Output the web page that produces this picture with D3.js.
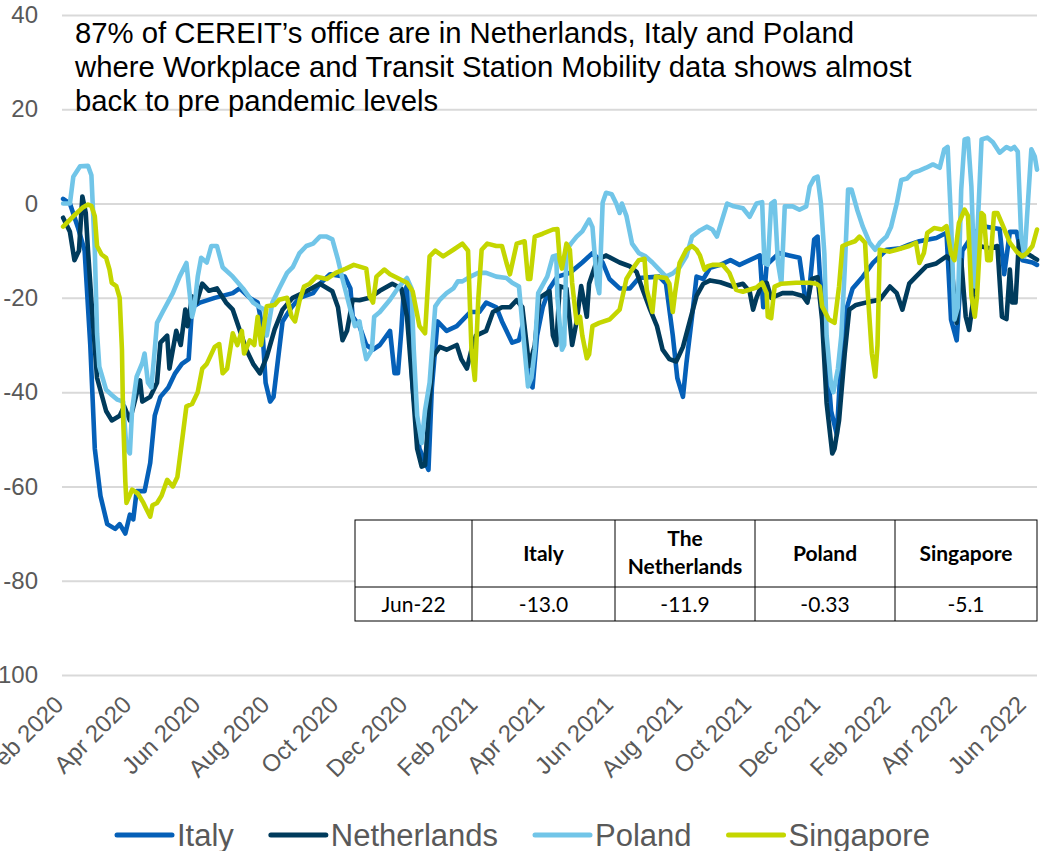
<!DOCTYPE html>
<html>
<head>
<meta charset="utf-8">
<script src="https://cdn.jsdelivr.net/npm/d3@7"></script>
<style>
  body { margin: 0; background: #fff; }
  svg { display: block; }
</style>
</head>
<body>
<div id="chart"></div>
<script>
// chart size
var chart_width = 1043;
var chart_height = 851;

// title lines
var titleLines = [
  "87% of CEREIT\u2019s office are in Netherlands, Italy and Poland",
  "where Workplace and Transit Station Mobility data shows almost",
  "back to pre pandemic levels"
];

// x tick labels (every 2 months from Feb 2020)
var tickLabels = ["Feb 2020", "Apr 2020", "Jun 2020", "Aug 2020", "Oct 2020", "Dec 2020",
  "Feb 2021", "Apr 2021", "Jun 2021", "Aug 2021", "Oct 2021", "Dec 2021",
  "Feb 2022", "Apr 2022", "Jun 2022"];
var yTicks = [-100, -80, -60, -40, -20, 0, 20, 40];

var seriesNames = ["Italy", "Netherlands", "Poland", "Singapore"];
var seriesColors = ["#0560B8", "#003B5C", "#71C5E8", "#C4D600"];

// mobility values: [date, value]
var italy = [["2020-02-16",1],["2020-02-22",0],["2020-02-29",-5],["2020-03-06",-10],["2020-03-11",-30],["2020-03-15",-52],["2020-03-20",-62],["2020-03-26",-68],["2020-04-02",-69],["2020-04-06",-68],["2020-04-11",-70],["2020-04-15",-66],["2020-04-18",-67],["2020-04-21",-61],["2020-04-28",-61],["2020-05-03",-55],["2020-05-07",-45],["2020-05-12",-41],["2020-05-19",-39],["2020-05-25",-36],["2020-05-31",-34],["2020-06-06",-33],["2020-06-09",-22],["2020-06-16",-21],["2020-06-29",-20],["2020-07-15",-19],["2020-07-21",-18],["2020-07-30",-20],["2020-08-06",-21],["2020-08-10",-26],["2020-08-13",-38],["2020-08-17",-42],["2020-08-20",-41],["2020-08-24",-33],["2020-08-28",-25],["2020-09-05",-22],["2020-09-12",-20],["2020-09-24",-19],["2020-09-30",-17],["2020-10-09",-15],["2020-10-22",-15.5],["2020-10-27",-18],["2020-10-29",-24],["2020-11-04",-26],["2020-11-10",-30],["2020-11-16",-31],["2020-11-22",-30],["2020-12-01",-27],["2020-12-05",-36],["2020-12-08",-36],["2020-12-11",-27],["2020-12-13",-19],["2020-12-16",-17.5],["2020-12-21",-39],["2020-12-27",-52],["2021-01-04",-56.5],["2021-01-07",-39],["2021-01-12",-25],["2021-01-20",-27],["2021-01-29",-26],["2021-02-10",-23],["2021-02-18",-23],["2021-02-24",-21],["2021-03-05",-22],["2021-03-10",-25],["2021-03-19",-29.5],["2021-03-25",-29],["2021-03-29",-25],["2021-04-03",-38],["2021-04-06",-39],["2021-04-10",-28],["2021-04-15",-22],["2021-04-21",-18],["2021-04-28",-15.5],["2021-05-09",-14.7],["2021-05-20",-12.5],["2021-05-29",-10.5],["2021-06-07",-12.5],["2021-06-13",-16],["2021-06-22",-18],["2021-07-01",-18],["2021-07-09",-15.8],["2021-07-27",-15.5],["2021-08-02",-17],["2021-08-08",-28],["2021-08-12",-37],["2021-08-17",-41],["2021-08-20",-34],["2021-08-25",-24],["2021-08-29",-15.5],["2021-09-04",-16],["2021-09-10",-13.6],["2021-09-19",-13],["2021-09-28",-12],["2021-10-06",-13],["2021-10-15",-12],["2021-10-24",-11],["2021-10-27",-22],["2021-10-30",-13],["2021-11-10",-10.5],["2021-11-19",-11],["2021-11-28",-11.5],["2021-12-03",-20],["2021-12-06",-20],["2021-12-11",-7.6],["2021-12-14",-7],["2021-12-16",-15],["2021-12-22",-32],["2021-12-26",-44],["2021-12-31",-49],["2022-01-04",-32],["2022-01-09",-22],["2022-01-14",-18],["2022-01-23",-15.5],["2022-02-01",-12.6],["2022-02-13",-9.8],["2022-02-25",-9.5],["2022-03-05",-8.7],["2022-03-14",-8],["2022-03-29",-7.3],["2022-04-07",-6.2],["2022-04-11",-24.6],["2022-04-16",-29],["2022-04-21",-10],["2022-05-02",-6],["2022-05-12",-4.9],["2022-05-24",-5.4],["2022-05-28",-15],["2022-06-02",-6],["2022-06-08",-6],["2022-06-13",-12],["2022-06-22",-12.5],["2022-06-26",-13]];

var netherlands = [["2020-02-16",-3],["2020-02-22",-6],["2020-02-26",-12],["2020-03-01",-10],["2020-03-04",1.5],["2020-03-07",-2],["2020-03-09",-10],["2020-03-13",-24],["2020-03-17",-37],["2020-03-25",-44],["2020-03-30",-46],["2020-04-06",-45],["2020-04-10",-43],["2020-04-15",-46],["2020-04-24",-37.5],["2020-04-26",-42],["2020-05-03",-41],["2020-05-09",-38],["2020-05-12",-29.5],["2020-05-18",-28],["2020-05-20",-35],["2020-05-26",-27],["2020-05-30",-30],["2020-06-03",-22.5],["2020-06-05",-26],["2020-06-09",-19.7],["2020-06-13",-21],["2020-06-18",-17],["2020-06-24",-18.5],["2020-07-01",-18],["2020-07-09",-21],["2020-07-15",-22.5],["2020-07-27",-31],["2020-08-02",-34],["2020-08-08",-36],["2020-08-14",-32.5],["2020-08-21",-26.7],["2020-08-28",-22.5],["2020-09-06",-20],["2020-09-18",-18.6],["2020-09-30",-17],["2020-10-11",-18.6],["2020-10-16",-22],["2020-10-20",-29],["2020-10-24",-27],["2020-10-29",-20.4],["2020-11-04",-20.5],["2020-11-13",-20],["2020-11-22",-18.5],["2020-12-03",-17],["2020-12-11",-18],["2020-12-16",-24],["2020-12-21",-39],["2020-12-25",-52],["2020-12-29",-55.8],["2021-01-01",-55.5],["2021-01-04",-45],["2021-01-08",-32.5],["2021-01-14",-30.4],["2021-01-20",-31],["2021-01-29",-30],["2021-02-02",-33],["2021-02-07",-35],["2021-02-11",-31],["2021-02-15",-28],["2021-02-24",-27],["2021-03-02",-23],["2021-03-10",-22],["2021-03-17",-22],["2021-03-23",-20.5],["2021-03-28",-22],["2021-04-03",-34.5],["2021-04-08",-30],["2021-04-12",-20],["2021-04-21",-18.6],["2021-04-24",-28],["2021-04-27",-30],["2021-04-30",-17.5],["2021-05-06",-18],["2021-05-11",-30],["2021-05-15",-25],["2021-05-19",-17.5],["2021-05-24",-24],["2021-05-26",-17],["2021-06-02",-12],["2021-06-10",-11],["2021-06-22",-12.5],["2021-07-01",-13.3],["2021-07-07",-14.5],["2021-07-12",-18],["2021-07-19",-22.5],["2021-07-25",-26],["2021-07-30",-31],["2021-08-05",-33],["2021-08-11",-33.5],["2021-08-17",-30.4],["2021-08-23",-25],["2021-08-29",-19.6],["2021-09-04",-17],["2021-09-10",-16.3],["2021-09-19",-16.7],["2021-09-30",-17.6],["2021-10-09",-17],["2021-10-15",-18.7],["2021-10-18",-22.5],["2021-10-21",-20],["2021-10-26",-17],["2021-10-30",-16.8],["2021-11-03",-20],["2021-11-13",-19],["2021-11-22",-19],["2021-12-01",-19.6],["2021-12-05",-21],["2021-12-09",-16],["2021-12-14",-15.6],["2021-12-18",-24.6],["2021-12-22",-42.3],["2021-12-27",-53],["2021-12-29",-52],["2022-01-02",-46],["2022-01-07",-31.8],["2022-01-11",-22.5],["2022-01-17",-21.5],["2022-01-29",-20.8],["2022-02-07",-20.4],["2022-02-16",-17.6],["2022-02-22",-19],["2022-02-27",-22.5],["2022-03-05",-17],["2022-03-11",-15.5],["2022-03-20",-13.3],["2022-03-29",-12.7],["2022-04-07",-11.2],["2022-04-11",-12],["2022-04-16",-25.3],["2022-04-20",-12],["2022-04-24",-24],["2022-04-27",-26.8],["2022-05-02",-18],["2022-05-06",-9],["2022-05-15",-9.5],["2022-05-22",-9],["2022-05-26",-24],["2022-05-30",-24.5],["2022-06-02",-14],["2022-06-04",-21],["2022-06-07",-21],["2022-06-10",-8],["2022-06-17",-10.6],["2022-06-22",-11.3],["2022-06-26",-11.9]];

var poland = [["2020-02-16",0],["2020-02-22",0],["2020-02-25",5.7],["2020-03-02",7.9],["2020-03-09",8],["2020-03-12",6],["2020-03-15",-10],["2020-03-17",-27.5],["2020-03-19",-34.6],["2020-03-25",-39.5],["2020-03-30",-40.6],["2020-04-04",-41.6],["2020-04-09",-42],["2020-04-12",-52],["2020-04-15",-53],["2020-04-17",-43.7],["2020-04-21",-36.7],["2020-04-26",-33.8],["2020-04-28",-31.8],["2020-05-01",-38],["2020-05-04",-39],["2020-05-07",-31],["2020-05-09",-25.3],["2020-05-14",-23],["2020-05-23",-19],["2020-05-29",-15.5],["2020-06-04",-12.6],["2020-06-09",-24],["2020-06-11",-22],["2020-06-14",-15.5],["2020-06-17",-11.5],["2020-06-22",-12.5],["2020-06-26",-9],["2020-07-01",-9],["2020-07-06",-13.5],["2020-07-15",-15.5],["2020-07-24",-18],["2020-08-02",-21],["2020-08-08",-22],["2020-08-12",-22.5],["2020-08-14",-28],["2020-08-19",-21],["2020-08-25",-18],["2020-09-01",-14.7],["2020-09-06",-13.5],["2020-09-12",-10.5],["2020-09-18",-9],["2020-09-24",-8.5],["2020-09-30",-7],["2020-10-06",-7],["2020-10-11",-7.6],["2020-10-16",-11.9],["2020-10-20",-16],["2020-10-27",-22.5],["2020-10-31",-26],["2020-11-04",-25],["2020-11-07",-29.5],["2020-11-10",-33],["2020-11-15",-31],["2020-11-17",-24],["2020-11-22",-23],["2020-12-01",-20.4],["2020-12-09",-17.6],["2020-12-16",-15.8],["2020-12-20",-18],["2020-12-22",-31],["2020-12-25",-45],["2020-12-29",-50.8],["2021-01-01",-43.8],["2021-01-05",-38],["2021-01-10",-21.8],["2021-01-14",-20.4],["2021-01-20",-19],["2021-01-26",-18],["2021-01-30",-16.5],["2021-02-03",-16.5],["2021-02-10",-15.5],["2021-02-17",-14.7],["2021-02-24",-14.7],["2021-03-05",-15.5],["2021-03-14",-15.8],["2021-03-19",-16.8],["2021-03-25",-17.6],["2021-03-30",-31],["2021-04-02",-38.8],["2021-04-05",-37],["2021-04-08",-31],["2021-04-11",-19],["2021-04-19",-15.5],["2021-04-24",-11.2],["2021-04-27",-11],["2021-04-28",-20],["2021-05-02",-31],["2021-05-04",-30],["2021-05-06",-9.8],["2021-05-10",-8.5],["2021-05-15",-7],["2021-05-20",-5.9],["2021-05-26",-3.4],["2021-05-29",-5],["2021-06-02",-17],["2021-06-04",-19],["2021-06-07",0.2],["2021-06-10",2.3],["2021-06-15",2],["2021-06-19",0],["2021-06-22",-2],["2021-06-24",0],["2021-06-28",-2.6],["2021-07-03",-8.5],["2021-07-09",-10.5],["2021-07-15",-11.2],["2021-07-21",-12.5],["2021-07-27",-14],["2021-08-02",-15.5],["2021-08-08",-14.8],["2021-08-14",-13.5],["2021-08-20",-11.2],["2021-08-25",-7],["2021-09-01",-5.7],["2021-09-07",-4.9],["2021-09-12",-5.5],["2021-09-16",-7],["2021-09-25",0],["2021-09-30",-0.5],["2021-10-09",-1],["2021-10-15",-2.8],["2021-10-21",0],["2021-10-26",0.3],["2021-10-28",-12.6],["2021-10-31",-13],["2021-11-03",0],["2021-11-06",0.5],["2021-11-09",-12.6],["2021-11-12",-17],["2021-11-15",-0.6],["2021-11-22",-0.6],["2021-11-28",-1.3],["2021-12-04",-0.6],["2021-12-07",3.6],["2021-12-11",5.4],["2021-12-14",5.7],["2021-12-17",0],["2021-12-20",-10.6],["2021-12-22",-28],["2021-12-26",-38.6],["2021-12-28",-40],["2022-01-01",-35],["2022-01-04",-28],["2022-01-07",-14],["2022-01-10",3],["2022-01-13",3],["2022-01-18",-1.3],["2022-01-23",-4.9],["2022-01-29",-8.3],["2022-02-03",-9.8],["2022-02-07",-8.3],["2022-02-13",-7],["2022-02-17",-4.9],["2022-02-22",0],["2022-02-26",5],["2022-03-03",5.3],["2022-03-08",6.5],["2022-03-14",7],["2022-03-20",7.6],["2022-03-26",8.3],["2022-04-01",7.6],["2022-04-05",11.5],["2022-04-08",12],["2022-04-11",-3.5],["2022-04-14",-24.6],["2022-04-17",-22],["2022-04-20",3],["2022-04-23",13.6],["2022-04-26",13.8],["2022-04-29",3.6],["2022-05-02",-17.6],["2022-05-04",-8],["2022-05-08",13.6],["2022-05-13",14],["2022-05-18",13],["2022-05-24",10.8],["2022-05-30",12],["2022-06-03",11.5],["2022-06-06",12],["2022-06-09",11],["2022-06-12",-7],["2022-06-15",-11.2],["2022-06-17",-3.5],["2022-06-21",11.5],["2022-06-24",10],["2022-06-26",7.2]];

var singapore = [["2020-02-16",-4.9],["2020-02-25",-2.7],["2020-03-04",-0.9],["2020-03-09",-0.2],["2020-03-12",-0.5],["2020-03-15",-2.7],["2020-03-17",-9],["2020-03-21",-10.8],["2020-03-25",-11.5],["2020-03-28",-14],["2020-03-30",-16.8],["2020-04-03",-17.5],["2020-04-06",-20],["2020-04-08",-31],["2020-04-09",-45],["2020-04-11",-59],["2020-04-12",-63.5],["2020-04-17",-60.7],["2020-04-22",-61.5],["2020-04-27",-63.5],["2020-04-30",-65],["2020-05-03",-66.4],["2020-05-05",-64],["2020-05-09",-63.5],["2020-05-13",-62],["2020-05-18",-58.6],["2020-05-23",-60],["2020-05-27",-58],["2020-06-01",-48.7],["2020-06-04",-43],["2020-06-09",-42.5],["2020-06-14",-40],["2020-06-18",-35],["2020-06-22",-34],["2020-06-29",-30.4],["2020-07-03",-29.8],["2020-07-06",-36],["2020-07-10",-35],["2020-07-15",-27.5],["2020-07-19",-30],["2020-07-23",-27],["2020-07-25",-31.8],["2020-07-30",-29],["2020-08-03",-30],["2020-08-06",-24],["2020-08-09",-30],["2020-08-14",-21.8],["2020-08-21",-21.5],["2020-08-25",-20.4],["2020-09-01",-20],["2020-09-05",-24],["2020-09-08",-25],["2020-09-12",-20.6],["2020-09-16",-17.6],["2020-09-21",-17],["2020-09-27",-15.5],["2020-10-06",-16],["2020-10-14",-14.7],["2020-10-23",-13.8],["2020-10-30",-13],["2020-11-10",-13.8],["2020-11-13",-19.7],["2020-11-16",-21],["2020-11-19",-15.5],["2020-11-26",-14],["2020-12-01",-15],["2020-12-16",-16.8],["2020-12-21",-18.6],["2020-12-27",-26],["2021-01-01",-27.5],["2021-01-05",-11.2],["2021-01-10",-10],["2021-01-17",-11.2],["2021-01-26",-9.8],["2021-02-03",-8.5],["2021-02-08",-10],["2021-02-11",-31],["2021-02-14",-37.4],["2021-02-17",-20.4],["2021-02-20",-9.8],["2021-02-25",-8.5],["2021-03-05",-9],["2021-03-10",-9],["2021-03-14",-12.6],["2021-03-17",-15],["2021-03-23",-8.5],["2021-03-30",-8],["2021-04-02",-16],["2021-04-04",-16],["2021-04-08",-7],["2021-04-15",-6.4],["2021-04-24",-5.5],["2021-04-28",-5.4],["2021-04-30",-11.9],["2021-05-02",-13.8],["2021-05-06",-8.5],["2021-05-09",-9.8],["2021-05-11",-16.8],["2021-05-15",-25.3],["2021-05-18",-24],["2021-05-20",-28],["2021-05-24",-32.8],["2021-05-26",-32],["2021-05-29",-26],["2021-06-04",-25.3],["2021-06-13",-24.6],["2021-06-22",-22.5],["2021-06-28",-16],["2021-07-03",-14],["2021-07-09",-12],["2021-07-14",-11.7],["2021-07-16",-18.3],["2021-07-21",-23],["2021-07-24",-15.5],["2021-08-02",-15.8],["2021-08-05",-17],["2021-08-08",-23],["2021-08-10",-19],["2021-08-14",-12.6],["2021-08-20",-9.8],["2021-08-25",-9],["2021-08-29",-9.8],["2021-09-01",-11],["2021-09-05",-14],["2021-09-08",-13.3],["2021-09-12",-13],["2021-09-21",-13],["2021-09-27",-14.7],["2021-10-03",-18.3],["2021-10-09",-18.7],["2021-10-21",-17.8],["2021-10-26",-16.8],["2021-10-30",-19],["2021-10-31",-24],["2021-11-03",-24.3],["2021-11-06",-17.6],["2021-11-12",-17],["2021-11-25",-16.8],["2021-12-07",-16.8],["2021-12-13",-17],["2021-12-16",-17.6],["2021-12-18",-21.8],["2021-12-24",-24.6],["2021-12-29",-25.3],["2022-01-02",-17.6],["2022-01-05",-9],["2022-01-10",-8.5],["2022-01-16",-8],["2022-01-20",-7],["2022-01-25",-8.3],["2022-01-27",-17.6],["2022-01-31",-31.8],["2022-02-03",-36.7],["2022-02-05",-30],["2022-02-07",-9.8],["2022-02-16",-10.2],["2022-02-22",-9.8],["2022-03-05",-9],["2022-03-11",-8.3],["2022-03-14",-12.6],["2022-03-18",-10.5],["2022-03-21",-6.2],["2022-03-27",-5.2],["2022-04-03",-5.5],["2022-04-07",-4.8],["2022-04-11",-10.6],["2022-04-14",-12],["2022-04-18",-4.1],["2022-04-23",-1.3],["2022-04-26",-2.6],["2022-04-29",-19.6],["2022-05-02",-24],["2022-05-04",-19.6],["2022-05-08",-2],["2022-05-10",-2.5],["2022-05-13",-12],["2022-05-16",-12],["2022-05-19",-2],["2022-05-22",-2],["2022-05-27",-4.8],["2022-06-02",-8.3],["2022-06-08",-10.2],["2022-06-13",-11.2],["2022-06-17",-10.5],["2022-06-22",-9],["2022-06-26",-5.5]];

// table
var tableHeaders = ["", "Italy", "The\nNetherlands", "Poland", "Singapore"];
var tableRow = ["Jun-22", "-13.0", "-11.9", "-0.33", "-5.1"];

var parseDate = d3.timeParse("%Y-%m-%d");
var startDate = parseDate("2020-02-15");

var x = d3.scaleTime()
  .domain([startDate, parseDate("2022-06-26")])
  .range([62, 1037]);
var y = d3.scaleLinear().domain([-100, 40]).range([675, 15]);

var svg = d3.select("#chart").append("svg")
  .attr("width", chart_width)
  .attr("height", chart_height);

// gridlines + y labels (plain hyphen for negatives)
var yAxis = svg.append("g")
  .attr("transform", "translate(62,0)")
  .call(d3.axisLeft(y).tickValues(yTicks).tickSize(-975).tickPadding(24)
    .tickFormat(function(d) { return String(d); }));
yAxis.select(".domain").remove();
yAxis.selectAll("line").attr("stroke", "#d9d9d9").attr("stroke-width", 2);
yAxis.selectAll("text")
  .attr("fill", "#595959")
  .style("font-family", "Arial, 'Liberation Sans', sans-serif")
  .style("font-size", "24px");

// x labels, rotated
var tickDates = tickLabels.map(function(d, i) { return d3.timeMonth.offset(startDate, 2 * i); });
svg.append("g").selectAll("text")
  .data(tickLabels)
  .enter().append("text")
  .attr("transform", function(d, i) { return "translate(" + (x(tickDates[i]) + 3) + ",706) rotate(-45)"; })
  .attr("text-anchor", "end")
  .attr("fill", "#595959")
  .style("font-family", "Arial, 'Liberation Sans', sans-serif")
  .style("font-size", "24px")
  .text(function(d) { return d; });

// lines
var line = d3.line()
  .x(function(d) { return x(parseDate(d[0])); })
  .y(function(d) { return y(d[1]); });

var allSeries = [italy, netherlands, poland, singapore];
svg.append("g").selectAll("path")
  .data(allSeries)
  .enter().append("path")
  .attr("d", line)
  .attr("fill", "none")
  .attr("stroke", function(d, i) { return seriesColors[i]; })
  .attr("stroke-width", 4.6)
  .attr("stroke-linejoin", "round")
  .attr("stroke-linecap", "round");

// title
svg.append("g").selectAll("text")
  .data(titleLines)
  .enter().append("text")
  .attr("x", 75)
  .attr("y", function(d, i) { return 43 + i * 34; })
  .attr("fill", "#000")
  .style("font-family", "Arial, 'Liberation Sans', sans-serif")
  .style("font-size", "29.3px")
  .text(function(d) { return d; });

// table
var colX = [355, 472, 615, 755, 895, 1037];
var rowY = [520, 587, 621];
var table = svg.append("g");
table.append("rect")
  .attr("x", colX[0]).attr("y", rowY[0])
  .attr("width", colX[5] - colX[0]).attr("height", rowY[2] - rowY[0])
  .attr("fill", "#fff").attr("stroke", "#000").attr("stroke-width", 1);
table.selectAll("line.col")
  .data(colX.slice(1, 5))
  .enter().append("line")
  .attr("x1", function(d) { return d; }).attr("x2", function(d) { return d; })
  .attr("y1", rowY[0]).attr("y2", rowY[2])
  .attr("stroke", "#000");
table.append("line")
  .attr("x1", colX[0]).attr("x2", colX[5])
  .attr("y1", rowY[1]).attr("y2", rowY[1])
  .attr("stroke", "#000");

var headText = table.selectAll("text.head")
  .data(tableHeaders)
  .enter().append("text")
  .attr("text-anchor", "middle")
  .attr("fill", "#000")
  .style("font-family", "Lato, 'Open Sans', sans-serif")
  .style("font-weight", "bold")
  .style("font-size", "21px");
headText.each(function(d, i) {
  var parts = d.split("\n");
  var cx = (colX[i] + colX[i + 1]) / 2;
  var top = 561 - (parts.length - 1) * 15;
  d3.select(this).selectAll("tspan")
    .data(parts)
    .enter().append("tspan")
    .attr("x", cx)
    .attr("y", function(p, j) { return top + j * 28; })
    .text(function(p) { return p; });
});

table.selectAll("text.val")
  .data(tableRow)
  .enter().append("text")
  .attr("x", function(d, i) { return (colX[i] + colX[i + 1]) / 2; })
  .attr("y", 612)
  .attr("text-anchor", "middle")
  .attr("fill", "#000")
  .style("font-family", "Lato, 'Open Sans', sans-serif")
  .style("font-size", "21px")
  .text(function(d) { return d; });

// legend
var legend = svg.append("g");
var cursor = 117;
seriesNames.forEach(function(name, i) {
  legend.append("line")
    .attr("x1", cursor).attr("x2", cursor + 55)
    .attr("y1", 835).attr("y2", 835)
    .attr("stroke", seriesColors[i])
    .attr("stroke-width", 5)
    .attr("stroke-linecap", "round");
  var t = legend.append("text")
    .attr("x", cursor + 60)
    .attr("y", 846)
    .attr("fill", "#595959")
    .style("font-family", "Arial, 'Liberation Sans', sans-serif")
    .style("font-size", "31px")
    .text(name);
  cursor = cursor + 60 + t.node().getComputedTextLength() + 37;
});
</script>
</body>
</html>
